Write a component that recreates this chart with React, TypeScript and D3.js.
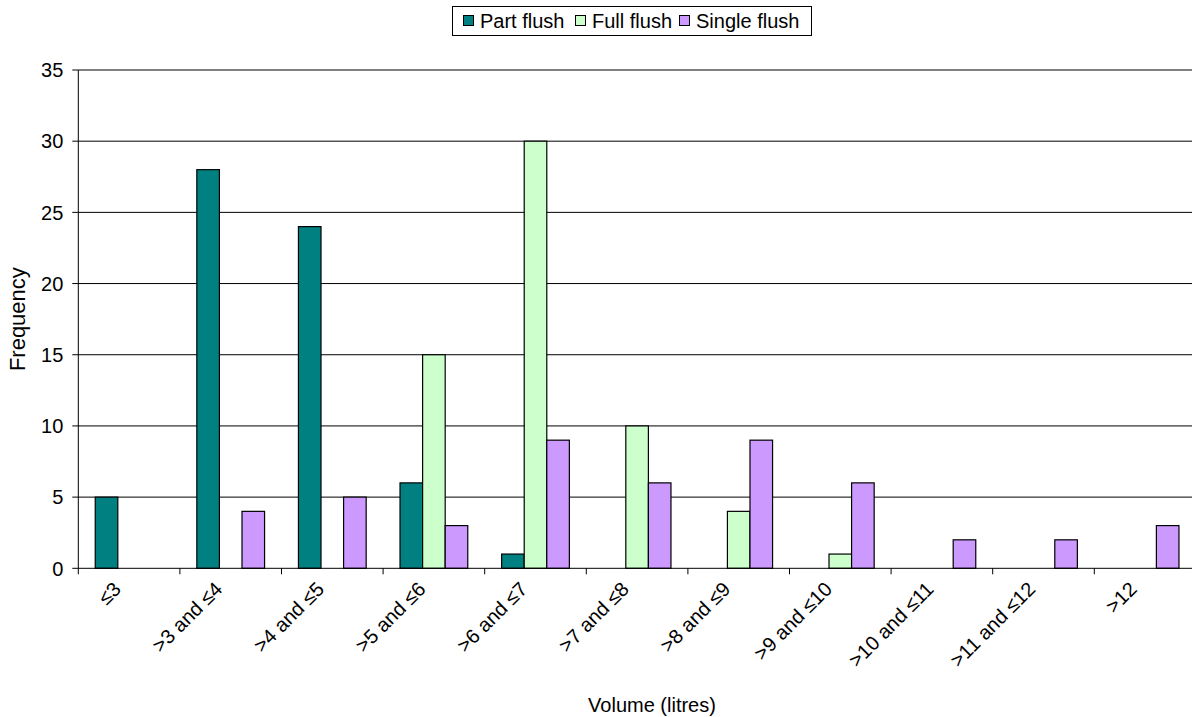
import React from "react";
import * as d3 from "d3";

const categories = [
  "≤3", ">3 and ≤4", ">4 and ≤5", ">5 and ≤6", ">6 and ≤7", ">7 and ≤8",
  ">8 and ≤9", ">9 and ≤10", ">10 and ≤11", ">11 and ≤12", ">12",
];
const seriesNames = ["Part flush", "Full flush", "Single flush"];
const seriesColors = ["#008080", "#CCFFCC", "#CC99FF"];
const partFlush = [5, 28, 24, 6, 1, 0, 0, 0, 0, 0, 0];
const fullFlush = [0, 0, 0, 15, 30, 10, 4, 1, 0, 0, 0];
const singleFlush = [0, 4, 5, 3, 9, 6, 9, 6, 2, 2, 3];
const yTicks = [0, 5, 10, 15, 20, 25, 30, 35];

const W = 1192;
const H = 717;
const left = 78.3;
const bandW = 101.6;
const top = 70;
const bottom = 568.3;
const FONT = "'Liberation Sans', Arial, sans-serif";

export default function App() {
  const series = [partFlush, fullFlush, singleFlush];
  const x = d3
    .scaleBand<string>()
    .domain(categories)
    .range([left, left + bandW * categories.length])
    .paddingInner(0)
    .paddingOuter(0);
  const inner = d3
    .scaleBand<number>()
    .domain([0, 1, 2])
    .range([bandW / 6, bandW - bandW / 6]);
  const y = d3.scaleLinear().domain([0, 35]).range([bottom, top]);
  const right = left + bandW * categories.length;

  const legendX = [463, 575, 679];

  return (
    <div style={{ position: "absolute", left: 0, top: 0 }}>
      <svg width={W} height={H} style={{ display: "block", background: "#fff" }}>
        {yTicks.slice(1).map((t) => (
          <line key={t} x1={left} x2={right} y1={y(t)} y2={y(t)} stroke="#000" strokeWidth={1} />
        ))}
        {series.map((vals, si) =>
          vals.map((v, ci) =>
            v > 0 ? (
              <rect
                key={`${si}-${ci}`}
                x={(x(categories[ci]) as number) + (inner(si) as number)}
                y={y(v)}
                width={inner.bandwidth()}
                height={y(0) - y(v)}
                fill={seriesColors[si]}
                stroke="#000"
                strokeWidth={1.2}
              />
            ) : null
          )
        )}
        <line x1={left} x2={left} y1={top} y2={bottom} stroke="#000" />
        <line x1={left} x2={right} y1={bottom} y2={bottom} stroke="#000" />
        {yTicks.map((t) => (
          <g key={t}>
            <line x1={left - 6} x2={left} y1={y(t)} y2={y(t)} stroke="#000" />
            <text
              x={left - 15}
              y={y(t)}
              dy="0.36em"
              textAnchor="end"
              fontFamily={FONT}
              fontSize={20}
            >
              {t}
            </text>
          </g>
        ))}
        {categories.map((c) => (
          <line
            key={c}
            x1={x(c) as number}
            x2={x(c) as number}
            y1={bottom}
            y2={bottom + 6}
            stroke="#000"
          />
        ))}
        {categories.map((c) => {
          const cx = (x(c) as number) + bandW / 2 - 7;
          const cy = bottom + 22;
          return (
            <text
              key={c}
              transform={`translate(${cx},${cy}) rotate(-45)`}
              textAnchor="end"
              fontFamily={FONT}
              fontSize={20}
            >
              {c}
            </text>
          );
        })}
        <text
          transform={`translate(25,${(top + bottom) / 2}) rotate(-90)`}
          textAnchor="middle"
          fontFamily={FONT}
          fontSize={22}
        >
          Frequency
        </text>
        <text x={652} y={712} textAnchor="middle" fontFamily={FONT} fontSize={20}>
          Volume (litres)
        </text>
        <rect x={452.5} y={6.5} width={359} height={29} fill="#fff" stroke="#000" />
        {seriesNames.map((n, i) => {
          const xs = legendX[i];
          return (
            <g key={n}>
              <rect x={xs + 0.5} y={15.5} width={10} height={10} fill={seriesColors[i]} stroke="#000" />
              <text x={xs + 17} y={28} fontFamily={FONT} fontSize={20}>
                {n}
              </text>
            </g>
          );
        })}
      </svg>
    </div>
  );
}
